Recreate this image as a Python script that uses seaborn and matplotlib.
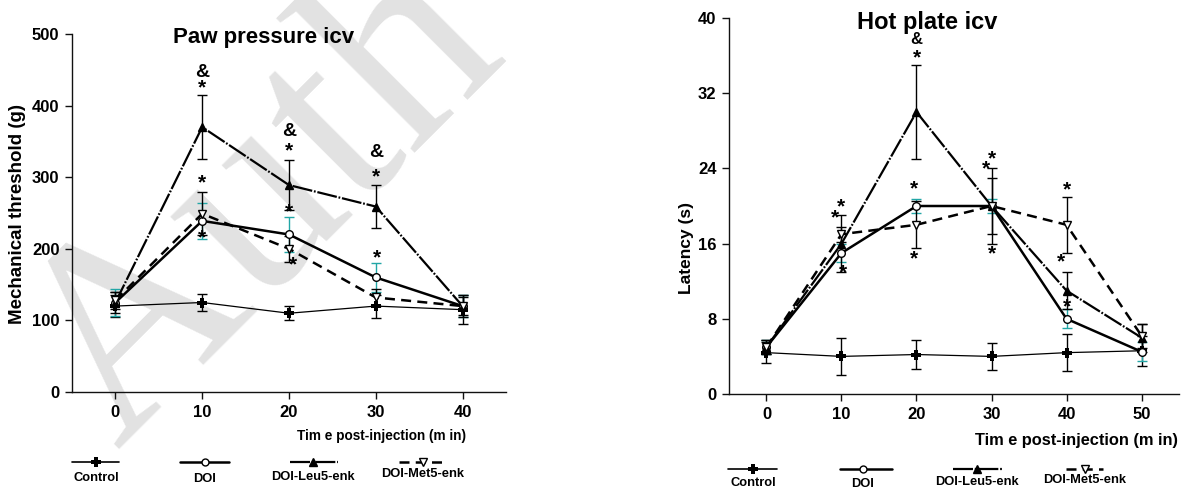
import numpy as np
import pandas as pd
import matplotlib
matplotlib.use("Agg")
import matplotlib.pyplot as plt
import seaborn as sns
from matplotlib.lines import Line2D

# ---------------- data: Paw pressure icv ----------------
paw_time = [0, 10, 20, 30, 40]
paw_control = [120, 125, 110, 120, 115]
paw_control_err = [15, 12, 10, 16, 20]
paw_doi = [125, 239, 220, 160, 120]
paw_doi_err = [19, 25, 25, 20, 15]
paw_leu = [125, 370, 289, 259, 120]
paw_leu_err = [15, 45, 35, 30, 15]
paw_met = [128, 249, 200, 132, 120]
paw_met_err = [12, 30, 18, 12, 12]
paw_marks_txt = ["&", "*", "*", "*", "&", "*", "*", "*", "&", "*", "*"]
paw_marks_x = [10, 10, 10, 10, 20, 20, 20, 20.4, 30, 30, 30.1]
paw_marks_y = [446, 426, 294, 217, 364, 338, 253, 180, 334, 303, 189]

# ---------------- data: Hot plate icv ----------------
hp_time = [0, 10, 20, 30, 40, 50]
hp_control = [4.4, 4.0, 4.2, 4.0, 4.4, 4.6]
hp_control_err = [1.1, 2.0, 1.5, 1.4, 2.0, 1.6]
hp_doi = [5.0, 15.0, 20.0, 20.0, 8.0, 4.5]
hp_doi_err = [0.7, 1.0, 0.7, 0.7, 1.0, 1.0]
hp_leu = [5.0, 16.0, 30.0, 20.0, 11.0, 6.0]
hp_leu_err = [0.7, 3.0, 5.0, 4.0, 2.0, 1.5]
hp_met = [5.0, 17.0, 18.0, 20.0, 18.0, 6.2]
hp_met_err = [0.7, 0.8, 2.5, 3.0, 3.0, 1.3]
hp_marks_txt = ["*", "*", "*", "&", "*", "*", "*", "*", "*", "*", "*", "*", "*"]
hp_marks_x = [9.9, 9.1, 10.2, 20, 20, 19.7, 19.6, 30.1, 29.3, 30.1, 40, 39.3, 40]
hp_marks_y = [20.0, 18.9, 13.0, 37.7, 35.9, 22.0, 14.5, 25.2, 24.1, 15.0, 21.9, 14.2, 9.4]

series_names = ["Control", "DOI", "DOI-Leu5-enk", "DOI-Met5-enk"]
legend_labels = ["Control", "DOI", "DOI-Leu5-enk", "DOI-Met5-enk"]

# ---------------- style ----------------
sns.set_theme(style="ticks")
plt.rcParams["font.family"] = ["Liberation Sans", "DejaVu Sans"]
plt.rcParams["font.weight"] = "bold"
plt.rcParams["axes.labelweight"] = "bold"
plt.rcParams["text.color"] = "black"
plt.rcParams["xtick.color"] = "black"
plt.rcParams["ytick.color"] = "black"
plt.rcParams["xtick.labelcolor"] = "black"
plt.rcParams["ytick.labelcolor"] = "black"

TEAL = "#22a6a6"
styles = {
    "Control": dict(color="black", lw=0.9, ls="-", marker="P", ms=7, mfc="black", mec="black", mew=0.0, err="black"),
    "DOI": dict(color="black", lw=1.8, ls="-", marker="o", ms=5.5, mfc="white", mec="black", mew=1.0, err=TEAL),
    "DOI-Leu5-enk": dict(color="black", lw=1.6, ls=(0, (9, 0.8, 0.8, 0.8)), marker="^", ms=6.2, mfc="black", mec="black", mew=1.0, err="black"),
    "DOI-Met5-enk": dict(color="black", lw=1.8, ls=(0, (4, 2.5)), marker="v", ms=6.2, mfc="white", mec="black", mew=1.0, err="black"),
}

W, H = 1181, 490
fig = plt.figure(figsize=(W / 100, H / 100), dpi=100)


def fx(px):
    return px / W


def fy(py):
    return 1 - py / H


ax1 = fig.add_axes([fx(72), fy(392), fx(506) - fx(72), fy(34) - fy(392)])
ax2 = fig.add_axes([fx(729), fy(394), fx(1179) - fx(729), fy(18) - fy(394)])

# watermark (drawn behind everything)
fig.text(fx(265), fy(205), "Auth", rotation=45, fontsize=200,
         family="Liberation Serif", fontweight="normal", color="#e2e2e2",
         ha="center", va="center", zorder=-5)


def draw_panel(ax, t, vals, errs):
    frames = []
    for name, v in zip(series_names, vals):
        frames.append(pd.DataFrame({"time": t, "value": v, "group": name}))
    df = pd.concat(frames, ignore_index=True)
    for name, e in zip(series_names, errs):
        st = styles[name]
        sub = df[df["group"] == name]
        ax.errorbar(sub["time"], sub["value"], yerr=e, fmt="none", ecolor=st["err"],
                    elinewidth=1.0, capsize=3.5, capthick=1.0, zorder=2)
    for name in series_names:
        st = styles[name]
        sub = df[df["group"] == name]
        sns.lineplot(data=sub, x="time", y="value", ax=ax, color=st["color"],
                     linewidth=st["lw"], linestyle=st["ls"], marker=st["marker"],
                     markersize=st["ms"], markerfacecolor=st["mfc"],
                     markeredgecolor=st["mec"], markeredgewidth=st["mew"],
                     zorder=3, legend=False)


draw_panel(ax1, paw_time, [paw_control, paw_doi, paw_leu, paw_met],
           [paw_control_err, paw_doi_err, paw_leu_err, paw_met_err])
draw_panel(ax2, hp_time, [hp_control, hp_doi, hp_leu, hp_met],
           [hp_control_err, hp_doi_err, hp_leu_err, hp_met_err])

for txt, x, y in zip(paw_marks_txt, paw_marks_x, paw_marks_y):
    ax1.annotate(txt, (x, y), xytext=(0, -1 if txt == "*" else 0), textcoords="offset points",
                 ha="center", va="center", fontsize=15 if txt == "*" else 14, fontweight="bold", zorder=5)
for txt, x, y in zip(hp_marks_txt, hp_marks_x, hp_marks_y):
    ax2.annotate(txt, (x, y), xytext=(0, -1 if txt == "*" else 0), textcoords="offset points",
                 ha="center", va="center", fontsize=15 if txt == "*" else 12, fontweight="bold", zorder=5)

# axes formatting
ax1.set_xlim(-5, 45)
ax1.set_ylim(0, 500)
ax1.set_xticks(paw_time)
ax1.set_yticks([0, 100, 200, 300, 400, 500])
ax2.set_xlim(-5, 55)
ax2.set_ylim(0, 40)
ax2.set_xticks(hp_time)
ax2.set_yticks([0, 8, 16, 24, 32, 40])

for ax in (ax1, ax2):
    sns.despine(ax=ax)
    ax.set_facecolor("none")
    ax.spines["left"].set_linewidth(1.0)
    ax.spines["bottom"].set_linewidth(1.0)
    ax.spines["left"].set_color("#111111")
    ax.spines["bottom"].set_color("#111111")
    ax.tick_params(axis="both", direction="out", length=5, width=1.0, color="#111111",
                   labelsize=12, pad=4, labelcolor="black")
    for lab in ax.get_xticklabels() + ax.get_yticklabels():
        lab.set_fontweight("bold")
    ax.set_xlabel("")
    ax.set_ylabel("")

# titles
fig.text(fx(264), fy(37), "Paw pressure icv", ha="center", va="center", fontsize=16, fontweight="bold")
fig.text(fx(927), fy(22), "Hot plate icv", ha="center", va="center", fontsize=17, fontweight="bold")

# y labels
fig.text(fx(18), fy(214), "Mechanical threshold (g)", rotation=90, ha="center", va="center",
         fontsize=13.5, fontweight="bold")
fig.text(fx(687), fy(248), "Latency (s)", rotation=90, ha="center", va="center",
         fontsize=12.5, fontweight="bold")

# x labels
fig.text(fx(466), fy(436), "Tim e post-injection (m in)", ha="right", va="center",
         fontsize=9.8, fontweight="bold")
fig.text(fx(1178), fy(440), "Tim e post-injection (m in)", ha="right", va="center",
         fontsize=11.8, fontweight="bold")


# legends (line samples with labels below)
def draw_legend(entries, line_y, label_ys, lab_fs):
    for name, (x0, x1, xm), ly in zip(series_names, entries, label_ys):
        st = styles[name]
        lw = st["lw"] if name != "Control" else 1.2
        fig.add_artist(Line2D([fx(x0), fx(x1)], [fy(line_y), fy(line_y)], transform=fig.transFigure,
                              color="black", lw=lw, ls=st["ls"]))
        fig.add_artist(Line2D([fx(xm)], [fy(line_y)], transform=fig.transFigure, marker=st["marker"],
                              ms=st["ms"] - 0.5, mfc=st["mfc"], mec=st["mec"], mew=st["mew"],
                              ls="none"))
        fig.text(fx(xm), fy(ly), legend_labels[series_names.index(name)], ha="center", va="center",
                 fontsize=lab_fs, fontweight="bold")


draw_legend([(72, 119, 96), (180, 229, 205), (290, 338, 313), (399, 443, 423)], 462,
            [478, 479, 477, 474], 9.3)
draw_legend([(728, 777, 753), (840, 892, 863), (953, 1002, 977), (1066, 1103, 1085)], 469,
            [483, 484, 482, 480], 9.3)

fig.savefig("out.png", dpi=100)
